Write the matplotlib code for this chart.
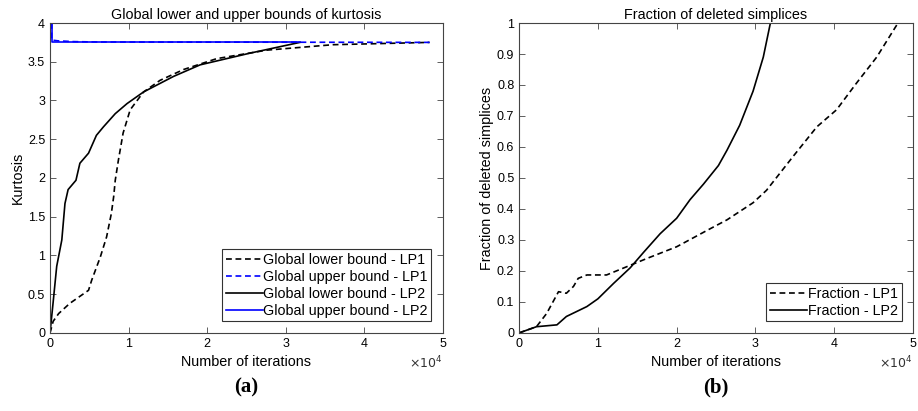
import numpy as np
import matplotlib.pyplot as plt

plt.rcParams['font.family'] = ['Liberation Sans', 'DejaVu Sans']

# kurtosis bounds (iterations, value)
lp1_low_x = np.array([0, 0.04, 0.11, 0.25, 0.49, 0.53, 0.64, 0.72, 0.78, 0.81, 0.83, 0.87, 0.93,
                      1.02, 1.19, 1.4, 1.7, 2.12, 2.76, 3.6, 4.83]) * 1e4
lp1_low_y = [0, 0.15, 0.25, 0.38, 0.55, 0.68, 0.98, 1.24, 1.54, 1.76, 1.97, 2.23, 2.58,
             2.88, 3.11, 3.26, 3.4, 3.54, 3.65, 3.72, 3.75]
lp1_up_x = np.array([0.02, 0.02, 0.1, 0.3, 0.6, 4.83]) * 1e4
lp1_up_y = [4.0, 3.78, 3.77, 3.76, 3.755, 3.75]

lp2_low_x = np.array([0, 0.04, 0.085, 0.15, 0.19, 0.23, 0.33, 0.38, 0.49, 0.59, 0.68, 0.83, 0.98,
                      1.19, 1.57, 1.91, 2.54, 3.18]) * 1e4
lp2_low_y = [0, 0.4, 0.86, 1.2, 1.67, 1.85, 1.97, 2.19, 2.32, 2.55, 2.66, 2.83, 2.96,
             3.11, 3.31, 3.46, 3.61, 3.75]
lp2_up_x = np.array([0.02, 0.02, 3.18]) * 1e4
lp2_up_y = [4.0, 3.75, 3.75]

# fraction of deleted simplices
fr1_x = np.array([0, 0.22, 0.35, 0.5, 0.6, 0.69, 0.75, 0.86, 1.11, 1.37, 1.62, 2.0, 2.38, 2.64,
                  2.97, 3.14, 3.48, 3.78, 4.03, 4.28, 4.54, 4.81]) * 1e4
fr1_y = [0, 0.02, 0.063, 0.133, 0.128, 0.15, 0.176, 0.187, 0.187, 0.214, 0.24, 0.278, 0.33,
         0.365, 0.42, 0.46, 0.57, 0.665, 0.72, 0.805, 0.89, 1.0]
fr2_x = np.array([0, 0.22, 0.48, 0.6, 0.86, 1.0, 1.2, 1.41, 1.58, 1.79, 2.0, 2.17, 2.34, 2.53,
                  2.64, 2.8, 2.97, 3.1, 3.19]) * 1e4
fr2_y = [0, 0.02, 0.026, 0.053, 0.085, 0.11, 0.16, 0.21, 0.26, 0.32, 0.37, 0.43, 0.48, 0.54,
         0.59, 0.67, 0.78, 0.89, 1.0]

fig = plt.figure(figsize=(9.18, 4.11), dpi=100)
ax1 = fig.add_axes([0.0545, 0.19, 0.428, 0.754])
ax2 = fig.add_axes([0.5655, 0.19, 0.429, 0.754])

dash = (0, (3.5, 2.2))
ax1.plot(lp1_low_x, lp1_low_y, color='k', ls=dash, lw=1.2, label='Global lower bound - LP1')
ax1.plot(lp1_up_x, lp1_up_y, color='b', ls=dash, lw=1.2, label='Global upper bound - LP1')
ax1.plot(lp2_low_x, lp2_low_y, color='k', lw=1.2, label='Global lower bound - LP2')
ax1.plot(lp2_up_x, lp2_up_y, color='b', lw=1.2, label='Global upper bound - LP2')
ax1.set_ylim(0, 4)
ax1.set_yticks(np.arange(0, 4.01, 0.5))
ax1.set_yticklabels(['0', '0.5', '1', '1.5', '2', '2.5', '3', '3.5', '4'])
ax1.set_title('Global lower and upper bounds of kurtosis', fontsize=10.4, pad=3)
ax1.set_ylabel('Kurtosis', fontsize=10.4, labelpad=2)

ax2.plot(fr1_x, fr1_y, color='k', ls=dash, lw=1.2, label='Fraction - LP1')
ax2.plot(fr2_x, fr2_y, color='k', lw=1.2, label='Fraction - LP2')
ax2.set_ylim(0, 1)
ax2.set_yticks(np.arange(0, 1.01, 0.1))
ax2.set_yticklabels(['0', '0.1', '0.2', '0.3', '0.4', '0.5', '0.6', '0.7', '0.8', '0.9', '1'])
ax2.set_title('Fraction of deleted simplices', fontsize=10.4, pad=3)
ax2.set_ylabel('Fraction of deleted simplices', fontsize=10.4, labelpad=2)

for ax, tag in [(ax1, '(a)'), (ax2, '(b)')]:
    ax.set_xlim(0, 5e4)
    ax.set_xticks(np.arange(0, 5.01e4, 1e4))
    ax.set_xticklabels(['0', '1', '2', '3', '4', '5'])
    ax.set_xlabel('Number of iterations', fontsize=10.4, labelpad=4)
    ax.tick_params(direction='in', top=True, right=True, labelsize=9, length=4,
                   width=0.6, color='#444444')
    for s in ax.spines.values():
        s.set_linewidth(0.8)
        s.set_color('#444444')
    ax.text(1.0, -0.07, r'$\times10^{4}$', transform=ax.transAxes, ha='right', va='top',
            fontsize=9, color='#333333')
    leg = ax.legend(loc='lower right', fontsize=10.3, frameon=True, fancybox=False,
                    handlelength=2.6, handletextpad=0.05, borderpad=0.25, labelspacing=0.21,
                    borderaxespad=0.8, edgecolor='k')
    leg.get_frame().set_linewidth(0.8)
    ax.text(0.5, -0.145, tag, transform=ax.transAxes, ha='center', va='top',
            fontsize=15, fontweight='bold', family='Liberation Serif')

fig.savefig('out.png', dpi=100)
